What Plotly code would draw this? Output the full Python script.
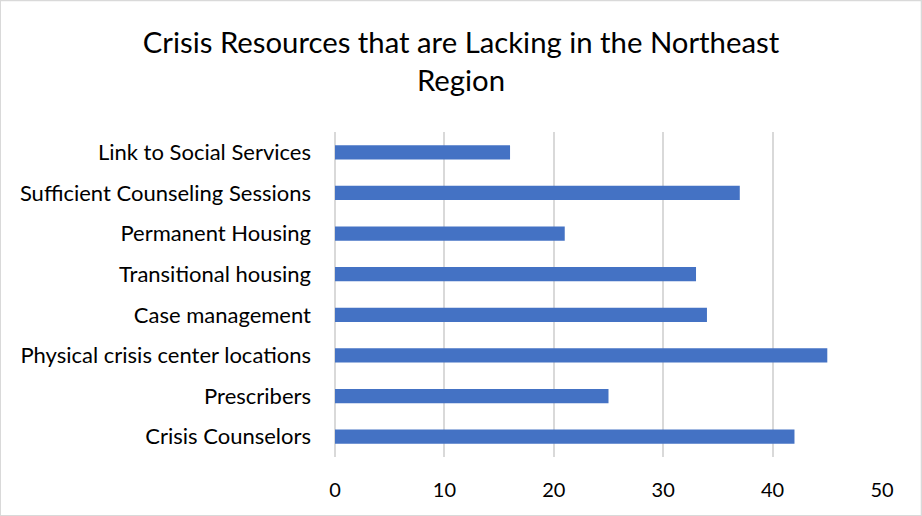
import plotly.graph_objects as go

categories = ["Crisis Counselors", "Prescribers", "Physical crisis center locations",
              "Case management", "Transitional housing", "Permanent Housing",
              "Sufficient Counseling Sessions", "Link to Social Services"]
values = [42, 25, 45, 34, 33, 21, 37, 16]
x_ticks = [0, 10, 20, 30, 40, 50]

FONT = "Lato"

fig = go.Figure(go.Bar(
    x=values, y=categories, orientation="h",
    marker=dict(color="#4472C4", line=dict(width=0)),
))

fig.update_layout(
    width=922, height=516,
    margin=dict(l=335, r=40, t=132, b=59),
    paper_bgcolor="white", plot_bgcolor="white",
    bargap=0.65,
    showlegend=False,
    title=dict(text="Crisis Resources that are Lacking in the Northeast<br>Region",
               x=0.5, xanchor="center", y=1 - 53 / 516, yanchor="middle",
               font=dict(family=FONT, size=29.3, color="#000000")),
    font=dict(family=FONT, color="#000000"),
    xaxis=dict(range=[0, 50], tickvals=x_ticks, showgrid=True, gridcolor="#D9D9D9",
               gridwidth=1.5, zeroline=True, zerolinecolor="#D9D9D9", zerolinewidth=1.5,
               showline=False, ticks="", tickfont=dict(size=20, family=FONT),
               ticklabelstandoff=19),
    yaxis=dict(showgrid=False, showline=False, ticks="",
               tickfont=dict(size=22, family=FONT), ticklabelstandoff=23),
)
fig.update_layout(shapes=[dict(type="rect", xref="x domain", yref="y domain",
                               x0=-335/547, x1=(922-335)/547 - 0.0005,
                               y0=-59/325, y1=(516-59)/325 - 0.0005,
                               line=dict(color="#D9D9D9", width=2), layer="below")])

fig.write_html("out.html")
